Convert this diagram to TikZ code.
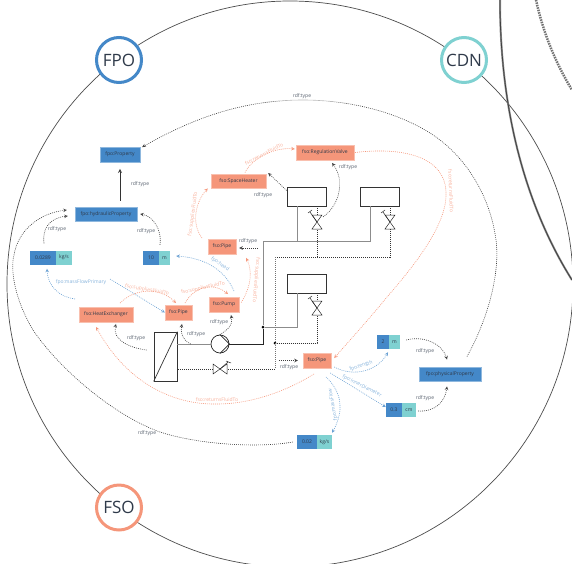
\documentclass[tikz,border=0pt]{standalone}
\usepackage{fontspec}
\setmainfont{Open Sans}
\definecolor{fpoblue}{HTML}{4488C8}
\definecolor{cdnteal}{HTML}{7FD1D1}
\definecolor{fsosalmon}{HTML}{F5967A}
\definecolor{inktext}{HTML}{2F3A4A}
\tikzstyle{onto} = [circle, minimum size=45pt, inner sep=0pt, line width=3pt, fill=white, text=inktext, font=\fontsize{17}{20}\selectfont]
\tikzstyle{fponode} = [rectangle, minimum height=14.5pt, inner sep=0pt, fill=fpoblue, draw=fpoblue!60, line width=0.4pt, text=inktext, font=\fontsize{5}{6}\selectfont]
\tikzstyle{fsonode} = [rectangle, minimum height=14.5pt, inner sep=0pt, fill=fsosalmon, draw=fsosalmon!60, line width=0.4pt, text=inktext, font=\fontsize{5}{6}\selectfont]
\tikzstyle{unitnode} = [rectangle, minimum height=14pt, inner sep=0pt, fill=cdnteal, text=inktext, font=\fontsize{5}{6}\selectfont]
\tikzstyle{typelabel} = [inner sep=0pt, text=inktext!80, font=\fontsize{5}{6}\selectfont]
\tikzstyle{fsolabel} = [inner sep=0pt, text=fsosalmon!75, font=\fontsize{5}{6}\selectfont]
\tikzstyle{fpolabel} = [inner sep=0pt, text=fpoblue!65, font=\fontsize{5}{6}\selectfont]
\tikzstyle{equip} = [rectangle, draw=black!80, line width=0.7pt, inner sep=0pt, fill=white]
\tikzstyle{junction} = [circle, fill=black, inner sep=0pt, minimum size=3pt]
\tikzstyle{typearrow} = [line width=0.6pt, black!75, dash pattern=on 0.9pt off 1.1pt, ->, >=stealth]
\tikzstyle{fsoarrow} = [line width=0.6pt, fsosalmon, dash pattern=on 0.9pt off 1.1pt, ->, >=stealth]
\tikzstyle{fpoarrow} = [line width=0.6pt, fpoblue!80, dash pattern=on 0.9pt off 1.1pt, ->, >=stealth]
\tikzstyle{pipeline} = [line width=1pt, black!45]
\tikzstyle{pipedark} = [line width=0.8pt, black!85]
\tikzstyle{signal} = [line width=0.7pt, black!80, dash pattern=on 1pt off 1pt]
\begin{document}
\begin{tikzpicture}[x=1pt, y=-1pt]

\useasboundingbox (0,0) rectangle (572,563);
\clip (0,0) rectangle (572,563);

%% BACKGROUND

\draw [line width=0.7pt, black!70] (290,284) circle (283);
\draw [line width=2pt, black!45] (500,0) .. controls (500,110) and (525,205) .. (572,280);
\draw [line width=0.8pt, black!75] (500,0) .. controls (500,110) and (525,205) .. (572,280);
\draw [line width=2.5pt, black!55, dash pattern=on 1.5pt off 1pt] (536,0) .. controls (543,32) and (555,62) .. (572,90);

%% NODES

\node (fpo) [onto, draw=fpoblue] at (119,60) {FPO};
\node (cdn) [onto, draw=cdnteal] at (464,60) {CDN};
\node (fso) [onto, draw=fsosalmon] at (119,507.5) {FSO};

\node (prop) [fponode, minimum width=40pt] at (120,154.5) {fpo:Property};
\node (hyd) [fponode, minimum width=62pt] at (106,214) {fpo:hydraulicProperty};
\node (phys) [fponode, minimum width=62pt] at (450,374) {fpo:physicalProperty};

\node (vala) [fponode, draw=none, minimum width=26pt, minimum height=14pt] at (43,257.5) {0.0289};
\node (valau) [unitnode, right of=vala, node distance=21pt, minimum width=16pt] {kg/s};
\node (valb) [fponode, draw=none, minimum width=16pt, minimum height=14pt] at (151,258) {10};
\node (valbu) [unitnode, right of=valb, node distance=13.5pt, minimum width=11pt] {m};
\node (valc) [fponode, draw=none, minimum width=12pt, minimum height=14pt] at (383,342) {2};
\node (valcu) [unitnode, right of=valc, node distance=11.5pt, minimum width=11pt] {m};
\node (vald) [fponode, draw=none, minimum width=16pt, minimum height=14pt] at (394,410) {0.3};
\node (valdu) [unitnode, right of=vald, node distance=15pt, minimum width=14pt] {cm};
\node (vale) [fponode, draw=none, minimum width=20pt, minimum height=14pt] at (307,442) {0.02};
\node (valeu) [unitnode, right of=vale, node distance=17.5pt, minimum width=15pt] {kg/s};

\node (heater) [fsonode, minimum width=55pt] at (238.5,181) {fso:SpaceHeater};
\node (reg) [fsonode, minimum width=58pt] at (325,152.5) {fso:RegulationValve};
\node (pipea) [fsonode, minimum width=28pt] at (222,246.5) {fso:Pipe};
\node (pump) [fsonode, minimum width=30pt] at (224,304.5) {fso:Pump};
\node (pipeb) [fsonode, minimum width=27pt] at (178.5,312.5) {fso:Pipe};
\node (hxch) [fsonode, minimum width=54pt] at (106,314.5) {fso:HeatExchanger};
\node (pipec) [fsonode, minimum width=28pt] at (317,360.5) {fso:Pipe};

%% EQUIPMENT

\node (boxa) [equip, minimum width=39pt, minimum height=19pt] at (306.5,196.5) {};
\node (boxb) [equip, minimum width=39pt, minimum height=19pt] at (379.5,196.5) {};
\node (boxc) [equip, minimum width=39pt, minimum height=19pt] at (306.5,283.5) {};
\node (hxbox) [equip, minimum width=23pt, minimum height=49pt] at (165.5,356.5) {};
\node (circ) [circle, draw=black!85, line width=0.7pt, inner sep=0pt, minimum size=18pt] at (220,344) {};
\coordinate (va) at (317,222);
\coordinate (vb) at (390,222);
\coordinate (vc) at (317,308);
\coordinate (vd) at (220,369);
\coordinate (topleft) at (263,241);
\coordinate (topright) at (370,241);
\coordinate (riser) at (297,241);
\coordinate (sigtop) at (275,257);
\coordinate (sigbot) at (275,369);
\node (joina) [junction] at (263,327) {};
\node (joinb) [junction] at (275,343) {};

\draw [equip] (hxbox.south west) -- (hxbox.north east);
\draw [pipedark] (circ.north) -- (circ.east) -- (circ.south);

\draw [pipeline] (joina) -- (topleft) -- (topright) -- (topright |- boxb.south);
\draw [pipeline] (riser) -- (riser |- boxa.south);
\draw [pipeline] (joina) -- (joina -| riser) -- (riser |- boxc.south);
\draw [pipeline] (hxbox.east |- circ.west) -- (circ.west);
\draw [pipedark] (circ.east) -- (joina |- circ.east) -- (joina);

\draw [signal] (sigtop) -- (vb |- sigtop) -- ([yshift=-7pt]vb);
\draw [signal] (va |- sigtop) -- ([yshift=-7pt]va);
\draw [signal] ([yshift=7pt]va) -- (va |- boxa.south);
\draw [signal] ([yshift=7pt]vb) -- (vb |- boxb.south);
\draw [signal] (joinb) -- (joinb -| vc) -- ([yshift=-8pt]vc);
\draw [signal] ([yshift=8pt]vc) -- (vc |- boxc.south);
\draw [signal, line width=0.9pt, black!55] (sigtop) -- (sigbot);
\draw [signal] (sigbot) -- ([xshift=7pt]vd);
\draw [signal] ([xshift=-7pt]vd) -- (hxbox.east |- vd);

\foreach \v in {va, vb, vc} {
  \draw [line width=0.5pt, black!85] ([shift={(-5pt,7pt)}]\v) -- ([shift={(5pt,-7pt)}]\v) -- ([shift={(-5pt,-7pt)}]\v) -- ([shift={(5pt,7pt)}]\v) -- cycle;
  \draw [line width=0.5pt, black!85] (\v) -- ([shift={(-7pt,10pt)}]\v);
  \draw [line width=0.5pt, black!85] ([shift={(-9pt,9pt)}]\v) -- ([shift={(-5pt,12pt)}]\v);
}
\draw [line width=0.5pt, black!85] ([shift={(-7pt,5pt)}]vd) -- ([shift={(7pt,-5pt)}]vd) -- ([shift={(7pt,5pt)}]vd) -- ([shift={(-7pt,-5pt)}]vd) -- cycle;
\draw [line width=0.5pt, black!85] (vd) -- ([shift={(8pt,7pt)}]vd);
\draw [line width=0.5pt, black!85] ([shift={(6pt,8pt)}]vd) -- ([shift={(11pt,6pt)}]vd);

%% LABELS

\node (ta) [typelabel] at (302,96) {rdf:type};
\node (tb) [typelabel] at (140,184) {rdf:type};
\node (tc) [typelabel] at (57,229) {rdf:type};
\node (td) [typelabel] at (146,231) {rdf:type};
\node (te) [typelabel] at (147,433) {rdf:type};
\node (tf) [typelabel] at (136,338) {rdf:type};
\node (tg) [typelabel] at (196,334) {rdf:type};
\node (th) [typelabel] at (219,322) {rdf:type};
\node (ti) [typelabel] at (248,241) {rdf:type};
\node (tj) [typelabel] at (263,195) {rdf:type};
\node (tk) [typelabel] at (348,167) {rdf:type};
\node (tl) [typelabel] at (289,367) {rdf:type};
\node (tm) [typelabel] at (425,351) {rdf:type};
\node (tn) [typelabel] at (425,398) {rdf:type};

\node (la) [fsolabel, rotate=82] at (193,214) {fso:suppliesFluidTo};
\node (lb) [fsolabel, rotate=27] at (264,154) {fso:returnsFluidTo};
\node (lc) [fsolabel, rotate=-88] at (451,191) {fso:returnsFluidTo};
\node (ld) [fsolabel, rotate=-95] at (256,280) {fso:suppliesFluidTo};
\node (le) [fsolabel, rotate=12] at (203,288) {fso:suppliesFluidTo};
\node (lf) [fsolabel, rotate=-10] at (147,290) {fso:suppliesFluidTo};
\node (lg) [fsolabel] at (217,400) {fso:returnsFluidTo};

\node (ma) [fpolabel] at (81,282) {fpo:massFlowPrimary};
\node (mb) [fpolabel, rotate=-35] at (220,264) {fpo:head};
\node (mc) [fpolabel, rotate=17] at (361,366) {fpo:length};
\node (md) [fpolabel, rotate=-27] at (362,386) {fpo:innerDiameter};
\node (me) [fpolabel, rotate=100] at (333,405) {fpo:massFlow};

\coordinate (flowa) at (75,299);
\coordinate (flowb) at (110,279);

%% ARROWS

\draw [line width=0.8pt, black!80, ->, >=stealth] ([shift={(14pt,6pt)}]hyd.north) -- ([yshift=-7pt]prop.south);
\draw [typearrow] ([xshift=17pt,yshift=10pt]phys.north) .. controls (490,315) and (500,270) .. (496,240) .. controls (490,195) and (465,155) .. (430,133) .. controls (390,108) and (340,100) .. (303,100) .. controls (240,100) and (190,120) .. ([xshift=2pt]prop.north east);
\draw [typearrow] ([xshift=1pt,yshift=7pt]vala.north) .. controls (42,228) and (50,218) .. ([xshift=-7pt,yshift=-2pt]hyd.west);
\draw [typearrow] ([xshift=9pt,yshift=6pt]valb.north) .. controls (162,228) and (152,216) .. ([xshift=3pt]hyd.east);
\draw [typearrow] ([xshift=-4pt]vale.west) .. controls (260,448) and (200,445) .. (160,432) .. controls (115,416) and (60,370) .. (33,330) .. controls (15,300) and (10,270) .. (14,255) .. controls (18,230) and (40,213) .. ([xshift=-8pt,yshift=4pt]hyd.west);
\draw [typearrow] ([xshift=-7pt,yshift=6.5pt]hxbox.west) .. controls (130,348) and (112,340) .. ([xshift=10pt,yshift=-2pt]hxch.south);
\draw [typearrow] ([xshift=-20pt]circ.west) .. controls (185,342) and (180,335) .. ([xshift=3.5pt,yshift=-4pt]pipeb.south);
\draw [typearrow] ([xshift=-2pt,yshift=-1pt]circ.north) .. controls (228,330) and (233,325) .. ([xshift=7pt,yshift=-3pt]pump.south);
\draw [typearrow] ([xshift=22pt,yshift=-1.5pt]pipea.east) -- ([xshift=3pt,yshift=-1.5pt]pipea.east);
\draw [typearrow] ([yshift=6pt]boxa.west) -- ([xshift=2pt,yshift=8pt]heater.east);
\draw [typearrow] ([xshift=6pt,yshift=5pt]va) .. controls (340,205) and (345,180) .. ([xshift=7pt,yshift=-3pt]reg.south);
\draw [typearrow] ([xshift=-24pt]pipec.west) -- ([xshift=-5pt]pipec.west);
\draw [typearrow] ([xshift=6pt,yshift=2pt]valcu.east) .. controls (425,335) and (443,345) .. ([xshift=-3pt,yshift=7pt]phys.north);
\draw [typearrow] ([xshift=2pt,yshift=-1pt]valdu.east) .. controls (435,412) and (445,402) .. ([xshift=-3pt,yshift=-5pt]phys.south);

\draw [fsoarrow] ([xshift=-20pt,yshift=1pt]pipea.north) .. controls (190,222) and (197,200) .. ([xshift=-3pt]heater.south west);
\draw [fsoarrow] ([xshift=6.5pt,yshift=1pt]heater.north) .. controls (252,158) and (275,147) .. ([xshift=-1pt,yshift=3.5pt]reg.west);
\draw [fsoarrow] ([xshift=1pt]reg.east) .. controls (400,147) and (447,155) .. (446,195) .. controls (446,225) and (415,265) .. (387,297) .. controls (370,318) and (350,340) .. ([xshift=3pt,yshift=-5pt]pipec.north east);
\draw [fsoarrow] ([xshift=2pt,yshift=2pt]pump.east) .. controls (252,285) and (252,270) .. ([xshift=10pt,yshift=-4pt]pipea.south east);
\draw [fsoarrow] ([xshift=6.5pt,yshift=2pt]pipeb.north) .. controls (195,285) and (215,283) .. ([xshift=4pt,yshift=3pt]pump.north);
\draw [fsoarrow] ([xshift=14pt,yshift=4pt]hxch.north) .. controls (135,288) and (160,287) .. ([xshift=-2.5pt,yshift=2pt]pipeb.north);
\draw [fsoarrow] ([xshift=-3pt,yshift=-6pt]pipec.south) .. controls (285,392) and (250,404) .. (217,404) .. controls (170,405) and (125,380) .. ([xshift=-10pt,yshift=-5pt]hxch.south);

\draw [fpoarrow] (flowa) .. controls (60,297) and (48,287) .. ([xshift=4pt,yshift=-4pt]vala.south);
\draw [fpoarrow] (flowb) -- (pipeb.west);
\draw [fpoarrow] ([xshift=10pt,yshift=6pt]pump.north) .. controls (225,270) and (205,258) .. ([xshift=6pt,yshift=2pt]valbu.east);
\draw [fpoarrow] ([xshift=3pt,yshift=-6.5pt]pipec.east) .. controls (355,378) and (378,370) .. ([xshift=-6.5pt,yshift=-3pt]valcu.south);
\draw [fpoarrow] ([xshift=-1pt,yshift=-5pt]pipec.south east) -- ([yshift=3pt]vald.west);
\draw [fpoarrow] ([xshift=9pt,yshift=-9pt]pipec.south) .. controls (345,395) and (342,415) .. ([xshift=7.5pt,yshift=2pt]valeu.north);
\end{tikzpicture}
\end{document}
